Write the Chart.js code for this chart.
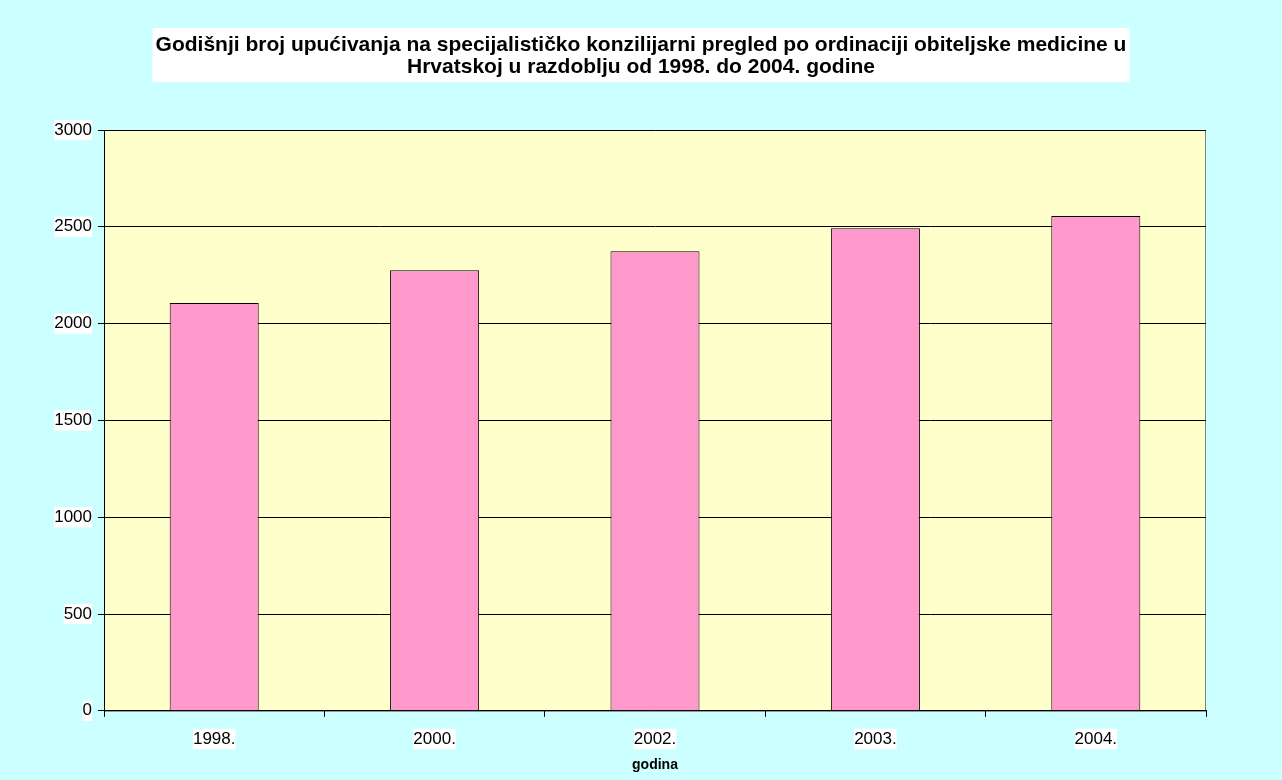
<!DOCTYPE html>
<html>
<head>
<meta charset="utf-8">
<script src="https://cdn.jsdelivr.net/npm/chart.js@4"></script>
<style>
  html, body { margin: 0; padding: 0; background: #CCFFFF; }
  #wrap { width: 1282px; height: 780px; }
</style>
</head>
<body>
<div id="wrap"><canvas id="uputnice" width="1282" height="780"></canvas></div>
<script>
// podaci s grafa (procijenjeno sa slike)
const godine = ['1998.', '2000.', '2002.', '2003.', '2004.'];
const brojUputnica = [2106, 2276, 2374, 2492, 2556];
const naslov = [
    'Godišnji broj upućivanja na specijalističko konzilijarni pregled po ordinaciji obiteljske medicine u',
    'Hrvatskoj u razdoblju od 1998. do 2004. godine'
];
const nazivOsiX = 'godina';

const FONT = 'Liberation Sans, Arial, sans-serif';

// pozadina platna, polje grafa, naslov na bijeloj podlozi
const pozadina = {
    id: 'pozadina',
    beforeDraw(chart) {
        const ctx = chart.ctx;
        const a = chart.chartArea;
        ctx.save();
        ctx.fillStyle = '#CCFFFF';
        ctx.fillRect(0, 0, chart.width, chart.height);
        ctx.fillStyle = '#FFFFCC';
        ctx.fillRect(a.left, a.top, a.right - a.left, a.bottom - a.top);
        ctx.strokeStyle = '#808080';
        ctx.lineWidth = 1;
        ctx.strokeRect(a.left + 0.5, a.top + 0.5, a.right - a.left - 1, a.bottom - a.top);

        // naslov, centriran na cijelu sliku
        ctx.font = 'bold 21px ' + FONT;
        let sirina = 0;
        naslov.forEach(r => { sirina = Math.max(sirina, ctx.measureText(r).width); });
        const sredina = chart.width / 2;
        const prvi = 45, razmak = 22;
        ctx.fillStyle = '#FFFFFF';
        ctx.fillRect(sredina - sirina / 2 - 3, prvi - 17, sirina + 6, (naslov.length - 1) * razmak + 32);
        ctx.fillStyle = '#000000';
        ctx.textAlign = 'center';
        ctx.textBaseline = 'middle';
        naslov.forEach((r, i) => ctx.fillText(r, sredina, prvi + i * razmak));
        ctx.restore();
    }
};

const ctx = document.getElementById('uputnice').getContext('2d');
const chart = new Chart(ctx, {
    type: 'bar',
    data: {
        labels: godine,
        datasets: [{
            label: 'Broj upućivanja',
            data: brojUputnica,
            backgroundColor: '#FF99CC',
            borderColor: '#000000',
            borderWidth: 1,
            barPercentage: 0.404,
            categoryPercentage: 1
        }]
    },
    options: {
        responsive: false,
        animation: false,
        layout: { padding: { left: 0, right: 76, top: 130, bottom: 6 } },
        plugins: {
            legend: { display: false },
            tooltip: { enabled: false },
            title: { display: false }
        },
        scales: {
            x: {
                grid: {
                    display: true,
                    drawOnChartArea: false,
                    offset: true,
                    color: '#000000',
                    tickLength: 6
                },
                border: { color: '#000000', width: 1 },
                ticks: {
                    color: '#000000',
                    font: { family: FONT, size: 17 },
                    padding: 12,
                    showLabelBackdrop: true,
                    backdropColor: '#FFFFFF',
                    backdropPadding: 0
                },
                title: {
                    display: true,
                    text: nazivOsiX,
                    color: '#000000',
                    font: { family: FONT, size: 14, weight: 'bold' },
                    padding: { top: -4, bottom: 0 }
                }
            },
            y: {
                min: 0,
                max: 3000,
                afterFit(s) { s.width = 104; },
                grid: {
                    color: '#000000',
                    tickLength: 6,
                    lineWidth: 1
                },
                border: { color: '#000000', width: 1 },
                ticks: {
                    stepSize: 500,
                    color: '#000000',
                    font: { family: FONT, size: 17 },
                    padding: 6,
                    showLabelBackdrop: true,
                    backdropColor: '#FFFFFF',
                    backdropPadding: 0,
                    callback: v => String(v)
                }
            }
        }
    },
    plugins: [pozadina]
});
</script>
</body>
</html>
